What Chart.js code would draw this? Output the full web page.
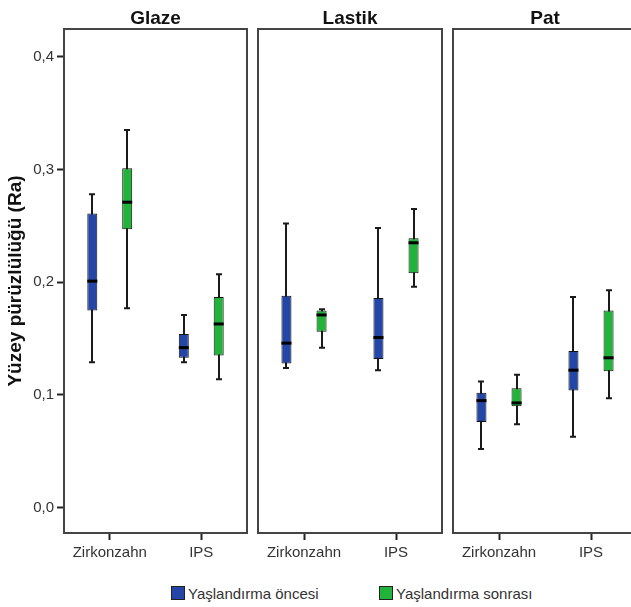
<!DOCTYPE html>
<html>
<head>
<meta charset="utf-8">
<script src="https://cdn.jsdelivr.net/npm/chart.js@4.4.0/dist/chart.umd.min.js"></script>
<style>
  html, body { margin: 0; padding: 0; background: #fff; overflow: hidden; }
  #wrap { position: relative; width: 631px; height: 607px; overflow: hidden; }
  #wrap canvas { position: absolute; top: 0; }
  .legend { position: absolute; top: 585px; height: 16px; display: flex; align-items: center;
            font: 15px 'Liberation Sans', Arial, sans-serif; color: #333; }
  .legend .box { width: 12px; height: 12px; border: 1px solid #222; margin-right: 3px; }
</style>
</head>
<body>
<div id="wrap">
  <canvas id="c0" width="250" height="570" style="left:0px"></canvas>
  <canvas id="c1" width="190" height="570" style="left:255px"></canvas>
  <canvas id="c2" width="190" height="570" style="left:450px"></canvas>
  <div class="legend" style="left:171px"><span class="box" style="background:#2446a6"></span><span id="lg0"></span></div>
  <div class="legend" style="left:379px"><span class="box" style="background:#22b33a"></span><span id="lg1"></span></div>
</div>
<script>
// veriler: her kutu [min, Q1, medyan, Q3, max]
const categories = ['Zirkonzahn', 'IPS'];
const panelTitles = ['Glaze', 'Lastik', 'Pat'];
const seriesNames = ['Yaşlandırma öncesi', 'Yaşlandırma sonrası'];
const yTicks = [0, 0.1, 0.2, 0.3, 0.4];
const yMin = -0.0224;
const yMax = 0.4246;

const glazeOncesi   = [[0.129, 0.175, 0.201, 0.261, 0.278], [0.129, 0.133, 0.142, 0.154, 0.171]];
const glazeSonrasi  = [[0.177, 0.247, 0.271, 0.301, 0.335], [0.114, 0.135, 0.163, 0.187, 0.207]];
const lastikOncesi  = [[0.124, 0.128, 0.146, 0.188, 0.252], [0.122, 0.132, 0.151, 0.186, 0.248]];
const lastikSonrasi = [[0.142, 0.156, 0.171, 0.175, 0.176], [0.196, 0.208, 0.235, 0.239, 0.265]];
const patOncesi     = [[0.052, 0.076, 0.095, 0.102, 0.112], [0.063, 0.104, 0.122, 0.139, 0.187]];
const patSonrasi    = [[0.074, 0.090, 0.093, 0.106, 0.118], [0.097, 0.121, 0.133, 0.175, 0.193]];

const panelData = [[glazeOncesi, glazeSonrasi], [lastikOncesi, lastikSonrasi], [patOncesi, patSonrasi]];
const colors = ['#2446a6', '#22b33a'];

Chart.defaults.font.family = "'Liberation Sans', Arial, sans-serif";

document.getElementById('lg0').textContent = seriesNames[0];
document.getElementById('lg1').textContent = seriesNames[1];

// bıyıklar, medyan ve panel çerçevesi
const boxPlugin = {
    id: 'boxWhiskers',
    beforeDatasetsDraw(chart) {
        const ctx = chart.ctx;
        const y = chart.scales.y;
        ctx.save();
        ctx.strokeStyle = '#1a1a1a';
        ctx.lineWidth = 2;
        chart.data.datasets.forEach((ds, di) => {
            chart.getDatasetMeta(di).data.forEach((bar, i) => {
                const s = ds.stats[i];
                const x = Math.round(bar.x);
                const yLo = y.getPixelForValue(s[0]);
                const yHi = y.getPixelForValue(s[4]);
                ctx.beginPath();
                ctx.moveTo(x, yLo);
                ctx.lineTo(x, yHi);
                ctx.moveTo(x - 3, yLo);
                ctx.lineTo(x + 3, yLo);
                ctx.moveTo(x - 3, yHi);
                ctx.lineTo(x + 3, yHi);
                ctx.stroke();
            });
        });
        ctx.restore();
    },
    afterDatasetsDraw(chart) {
        const ctx = chart.ctx;
        const y = chart.scales.y;
        ctx.save();
        ctx.strokeStyle = '#000';
        ctx.lineWidth = 3;
        chart.data.datasets.forEach((ds, di) => {
            chart.getDatasetMeta(di).data.forEach((bar, i) => {
                const yMed = y.getPixelForValue(ds.stats[i][2]);
                ctx.beginPath();
                ctx.moveTo(bar.x - bar.width / 2, yMed);
                ctx.lineTo(bar.x + bar.width / 2, yMed);
                ctx.stroke();
            });
        });
        const a = chart.chartArea;
        ctx.strokeStyle = '#444';
        ctx.lineWidth = 2;
        ctx.strokeRect(a.left, a.top, a.right - a.left, a.bottom - a.top);
        ctx.restore();
    }
};

function makePanel(canvasId, p) {
    const first = p === 0;
    const ctx = document.getElementById(canvasId).getContext('2d');
    return new Chart(ctx, {
        type: 'bar',
        data: {
            labels: categories,
            datasets: panelData[p].map((stats, si) => ({
                label: seriesNames[si],
                data: stats.map(s => [s[1], s[3]]),
                stats: stats,
                backgroundColor: colors[si],
                borderColor: '#111',
                borderWidth: 1,
                borderSkipped: false,
                categoryPercentage: 0.763,
                barPercentage: 0.286
            }))
        },
        options: {
            responsive: false,
            animation: false,
            layout: {
                padding: { left: first ? 0 : 3, right: 3, top: 0, bottom: 4 }
            },
            plugins: {
                legend: { display: false },
                tooltip: { enabled: false },
                title: {
                    display: true,
                    text: panelTitles[p],
                    fullSize: false,
                    color: '#111',
                    font: { size: 19, weight: 'bold', lineHeight: 1 },
                    padding: { top: 9.5, bottom: 0.5 }
                }
            },
            scales: {
                x: {
                    offset: true,
                    grid: { offset: false, drawOnChartArea: false, tickLength: 7, tickColor: '#222', tickWidth: 2 },
                    border: { display: false },
                    ticks: { color: '#333', font: { size: 15 }, padding: 4, maxRotation: 0, autoSkip: false }
                },
                y: {
                    display: first,
                    min: yMin,
                    max: yMax,
                    afterBuildTicks: s => { s.ticks = yTicks.map(v => ({ value: v })); },
                    afterFit: s => { s.width = first ? 64 : 0; },
                    grid: { drawOnChartArea: false, tickLength: 7, tickColor: '#222', tickWidth: 2 },
                    border: { display: false },
                    ticks: {
                        color: '#333',
                        font: { size: 15 },
                        padding: 3,
                        callback: v => v.toFixed(1).replace('.', ',')
                    },
                    title: {
                        display: true,
                        text: 'Yüzey pürüzlülüğü (Ra)',
                        color: '#111',
                        font: { size: 19, weight: 'bold' },
                        padding: { top: 4, bottom: 0 }
                    }
                }
            }
        },
        plugins: [boxPlugin]
    });
}

makePanel('c0', 0);
makePanel('c1', 1);
makePanel('c2', 2);
</script>
</body>
</html>
